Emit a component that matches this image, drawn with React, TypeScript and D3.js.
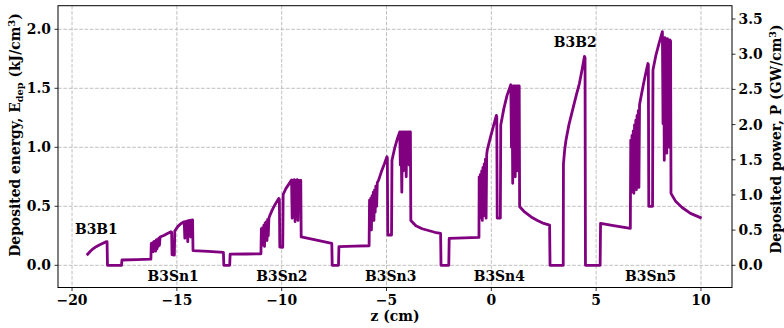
import React from "react";
import * as d3 from "d3";

// ---- data (z in cm, deposited energy in kJ/cm^3) ----
const segB3B1: [number, number][] = [
  [-19.3, 0.085], [-19.15, 0.115], [-19.0, 0.14], [-18.85, 0.158], [-18.7, 0.172],
  [-18.55, 0.185], [-18.4, 0.198], [-18.33, 0.2], [-18.31, 0.0],
];
const gap1: [number, number][] = [
  [-17.64, 0.0], [-17.62, 0.045], [-16.9, 0.048], [-16.24, 0.052],
];
const segB3Sn1: [number, number][] = [
  [-16.22, 0.185], [-16.19, 0.12], [-16.16, 0.19], [-16.13, 0.115], [-16.1, 0.2],
  [-16.07, 0.13], [-16.04, 0.205], [-16.01, 0.12], [-15.98, 0.215], [-15.95, 0.14],
  [-15.92, 0.22], [-15.89, 0.16], [-15.86, 0.23], [-15.83, 0.17], [-15.8, 0.24],
  [-15.6, 0.255], [-15.45, 0.27], [-15.28, 0.285], [-15.25, 0.28], [-15.23, 0.09],
  [-15.12, 0.087], [-15.1, 0.29], [-14.95, 0.33], [-14.8, 0.355], [-14.65, 0.37],
  [-14.62, 0.23], [-14.59, 0.37], [-14.55, 0.25], [-14.52, 0.375], [-14.48, 0.2],
  [-14.45, 0.378], [-14.41, 0.27], [-14.38, 0.38], [-14.34, 0.24], [-14.31, 0.382],
  [-14.28, 0.31], [-14.25, 0.385], [-14.23, 0.125], [-13.5, 0.118], [-12.78, 0.11],
  [-12.76, 0.0],
];
const gap2: [number, number][] = [
  [-12.48, 0.0], [-12.46, 0.095], [-11.7, 0.096], [-10.99, 0.098],
];
const segB3Sn2: [number, number][] = [
  [-10.97, 0.31], [-10.94, 0.17], [-10.91, 0.32], [-10.88, 0.2], [-10.85, 0.34],
  [-10.82, 0.16], [-10.79, 0.36], [-10.76, 0.22], [-10.73, 0.37], [-10.7, 0.21],
  [-10.67, 0.39], [-10.64, 0.25], [-10.61, 0.4], [-10.57, 0.42], [-10.45, 0.47],
  [-10.3, 0.52], [-10.14, 0.567], [-10.11, 0.56], [-10.09, 0.155], [-9.95, 0.153],
  [-9.93, 0.6], [-9.8, 0.65], [-9.65, 0.69], [-9.53, 0.723], [-9.5, 0.4],
  [-9.47, 0.72], [-9.43, 0.45], [-9.4, 0.725], [-9.36, 0.37], [-9.33, 0.72],
  [-9.29, 0.5], [-9.26, 0.725], [-9.22, 0.38], [-9.19, 0.72], [-9.15, 0.55],
  [-9.12, 0.72], [-9.09, 0.72], [-9.07, 0.24], [-8.5, 0.22], [-8.0, 0.2],
  [-7.61, 0.186], [-7.59, 0.0],
];
const gap3: [number, number][] = [
  [-7.29, 0.0], [-7.27, 0.158], [-6.5, 0.162], [-5.83, 0.166],
];
const segB3Sn3: [number, number][] = [
  [-5.81, 0.553], [-5.78, 0.4], [-5.75, 0.57], [-5.72, 0.3], [-5.69, 0.59],
  [-5.66, 0.42], [-5.63, 0.62], [-5.6, 0.38], [-5.57, 0.64], [-5.54, 0.45],
  [-5.51, 0.67], [-5.47, 0.5], [-5.44, 0.7], [-5.38, 0.72], [-5.25, 0.79],
  [-5.1, 0.86], [-4.98, 0.92], [-4.96, 0.91], [-4.94, 0.257], [-4.76, 0.257],
  [-4.74, 0.89], [-4.6, 1.0], [-4.47, 1.08], [-4.37, 1.13], [-4.34, 0.85],
  [-4.31, 1.13], [-4.27, 0.62], [-4.24, 1.13], [-4.2, 0.8], [-4.17, 1.13],
  [-4.13, 0.88], [-4.1, 1.13], [-4.06, 0.75], [-4.03, 1.13], [-3.99, 0.95],
  [-3.96, 1.13], [-3.92, 0.85], [-3.89, 1.13], [-3.86, 1.13], [-3.84, 0.38],
  [-3.6, 0.335], [-3.3, 0.31], [-3.0, 0.295], [-2.7, 0.28], [-2.42, 0.27],
  [-2.4, 0.0],
];
const gap4: [number, number][] = [
  [-2.03, 0.0], [-2.01, 0.228], [-1.3, 0.232], [-0.59, 0.236],
];
const segB3Sn4: [number, number][] = [
  [-0.58, 0.75], [-0.55, 0.4], [-0.52, 0.77], [-0.49, 0.44], [-0.46, 0.8],
  [-0.43, 0.38], [-0.4, 0.83], [-0.37, 0.42], [-0.34, 0.86], [-0.31, 0.44],
  [-0.28, 0.9], [-0.25, 0.4], [-0.22, 0.94], [-0.19, 0.98], [-0.05, 1.08],
  [0.1, 1.18], [0.24, 1.27], [0.26, 1.26], [0.28, 0.4], [0.43, 0.4],
  [0.45, 1.19], [0.6, 1.33], [0.75, 1.44], [0.93, 1.53], [0.96, 1.0],
  [0.99, 1.52], [1.02, 0.695], [1.05, 1.52], [1.08, 0.9], [1.11, 1.52],
  [1.14, 0.75], [1.17, 1.52], [1.2, 1.1], [1.23, 1.52], [1.26, 0.8],
  [1.29, 1.52], [1.33, 1.52], [1.35, 0.497], [1.6, 0.45], [1.9, 0.41],
  [2.2, 0.38], [2.5, 0.355], [2.78, 0.34], [2.8, 0.0],
];
const segB3B2: [number, number][] = [
  [3.43, 0.0], [3.44, 0.86], [3.5, 0.98], [3.56, 1.06], [3.7, 1.19], [3.88, 1.32],
  [4.05, 1.44], [4.2, 1.54], [4.33, 1.66], [4.44, 1.77], [4.47, 1.76], [4.49, 0.0],
];
const gap6: [number, number][] = [
  [5.19, 0.0], [5.21, 0.356], [5.9, 0.335], [6.63, 0.314],
];
const segB3Sn5: [number, number][] = [
  [6.65, 1.06], [6.68, 0.62], [6.71, 1.1], [6.74, 0.65], [6.77, 1.14],
  [6.8, 0.61], [6.83, 1.19], [6.86, 0.7], [6.89, 1.23], [6.92, 0.64],
  [6.95, 1.27], [6.98, 0.75], [7.01, 1.31], [7.04, 0.66], [7.07, 1.36],
  [7.1, 1.39], [7.25, 1.53], [7.38, 1.64], [7.47, 1.71], [7.49, 1.7],
  [7.51, 0.5], [7.69, 0.5], [7.71, 1.655], [7.85, 1.78], [8.0, 1.88],
  [8.16, 1.98], [8.19, 1.2], [8.22, 1.93], [8.25, 0.89], [8.28, 1.93],
  [8.31, 1.1], [8.34, 1.92], [8.37, 0.95], [8.4, 1.92], [8.43, 1.3],
  [8.46, 1.91], [8.49, 1.0], [8.52, 1.91], [8.55, 1.9], [8.57, 0.61],
  [8.8, 0.54], [9.1, 0.49], [9.5, 0.44], [10.03, 0.4],
];

const labelNames = ["B3B1", "B3Sn1", "B3Sn2", "B3Sn3", "B3Sn4", "B3B2", "B3Sn5"];
const labelZ = [-18.84, -15.18, -9.99, -4.8, 0.38, 4.0, 7.6];
const labelE = [0.265, -0.133, -0.133, -0.133, -0.133, 1.85, -0.133];

const xTicks = [-20, -15, -10, -5, 0, 5, 10];
const yTicksLeft = [0, 0.5, 1.0, 1.5, 2.0];
const yTicksRight = [0, 0.5, 1.0, 1.5, 2.0, 2.5, 3.0, 3.5];
const powerFactor = 1.677;

const W = 784;
const H = 328;
const L = 58;
const R = 732;
const T = 5.7;
const B = 287.5;
const FONT = "'DejaVu Serif', serif";
const FS = 13.9;

export default function App() {
  const series = [
    ...segB3B1, ...gap1, ...segB3Sn1, ...gap2, ...segB3Sn2, ...gap3,
    ...segB3Sn3, ...gap4, ...segB3Sn4, ...segB3B2, ...gap6, ...segB3Sn5,
  ];
  const x = d3.scaleLinear().domain([-20.67, 11.48]).range([L, R]);
  const yDomain: [number, number] = [-0.188, 2.2];
  const y = d3.scaleLinear().domain(yDomain).range([B, T]);
  const y2 = d3
    .scaleLinear()
    .domain([yDomain[0] * powerFactor, yDomain[1] * powerFactor])
    .range([B, T]);
  const line = d3
    .line<[number, number]>()
    .x((d) => x(d[0]))
    .y((d) => y(d[1]));
  const fmtX = (v: number) => (v < 0 ? "\u2212" + Math.abs(v) : String(v));
  const fmtY = (v: number) => v.toFixed(1);

  return (
    <svg
      width={W}
      height={H}
      style={{ position: "absolute", left: 0, top: 0, background: "#fff" }}
      fontFamily={FONT}
      fontWeight="bold"
      fontSize={FS}
    >
      <rect x={0} y={0} width={W} height={H} fill="#fff" />
      {/* grid */}
      <g stroke="#b0b0b0" strokeWidth={0.8} strokeDasharray="3.7,1.6">
        {xTicks.map((t) => (
          <line key={"gx" + t} x1={x(t)} x2={x(t)} y1={T} y2={B} />
        ))}
        {yTicksLeft.map((t) => (
          <line key={"gy" + t} x1={L} x2={R} y1={y(t)} y2={y(t)} />
        ))}
      </g>
      {/* data */}
      <path
        d={line(series) || ""}
        fill="none"
        stroke="#800080"
        strokeWidth={2.8}
        strokeLinejoin="round"
      />
      {/* frame */}
      <rect x={L} y={T} width={R - L} height={B - T} fill="none" stroke="#000" strokeWidth={1} />
      {/* x ticks */}
      {xTicks.map((t) => (
        <g key={"xt" + t}>
          <line x1={x(t)} x2={x(t)} y1={B} y2={B + 3.5} stroke="#000" strokeWidth={0.8} />
          <text x={x(t)} y={305} textAnchor="middle">
            {fmtX(t)}
          </text>
        </g>
      ))}
      {/* left y ticks */}
      {yTicksLeft.map((t) => (
        <g key={"yl" + t}>
          <line x1={L - 3.5} x2={L} y1={y(t)} y2={y(t)} stroke="#000" strokeWidth={0.8} />
          <text x={L - 7} y={y(t) + 5} textAnchor="end">
            {fmtY(t)}
          </text>
        </g>
      ))}
      {/* right y ticks */}
      {yTicksRight.map((t) => (
        <g key={"yr" + t}>
          <line x1={R} x2={R + 3.5} y1={y2(t)} y2={y2(t)} stroke="#000" strokeWidth={0.8} />
          <text x={R + 6.5} y={y2(t) + 5} textAnchor="start">
            {fmtY(t)}
          </text>
        </g>
      ))}
      {/* labels */}
      {labelNames.map((n, i) => (
        <text key={n} x={x(labelZ[i])} y={y(labelE[i])} textAnchor="middle">
          {n}
        </text>
      ))}
      {/* axis titles */}
      <text x={(L + R) / 2} y={321} textAnchor="middle">
        z (cm)
      </text>
      <text transform="translate(20,135) rotate(-90)" textAnchor="middle">
        Deposited energy, E
        <tspan fontSize={9.7} dy={3}>dep</tspan>
        <tspan dy={-3}> (kJ/cm</tspan>
        <tspan fontSize={9.7} dy={-5}>3</tspan>
        <tspan dy={5}>)</tspan>
      </text>
      <text transform="translate(781,139) rotate(-90)" textAnchor="middle">
        Deposited power, P (GW/cm
        <tspan fontSize={9.7} dy={-5}>3</tspan>
        <tspan dy={5}>)</tspan>
      </text>
    </svg>
  );
}
